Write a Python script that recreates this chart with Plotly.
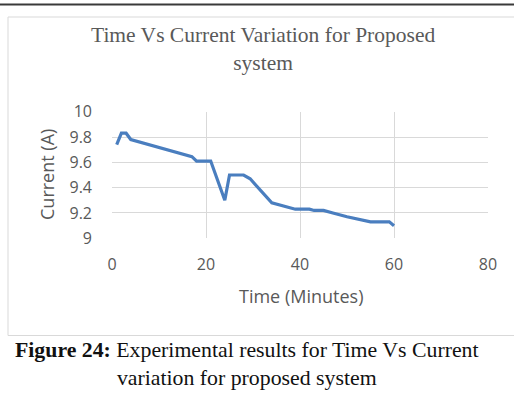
import plotly.graph_objects as go

# Data
time_min = [1, 2, 3, 4, 17, 18, 21, 24, 25, 28, 29.4, 34, 39, 42, 43, 45, 47, 50, 55, 59, 60]
current_a = [9.74, 9.83, 9.83, 9.78, 9.645, 9.61, 9.61, 9.30, 9.50, 9.50, 9.47, 9.28,
             9.23, 9.23, 9.22, 9.22, 9.20, 9.17, 9.13, 9.13, 9.10]
x_ticks = [0, 20, 40, 60, 80]
y_ticks = [9, 9.2, 9.4, 9.6, 9.8, 10]
y_tick_labels = ["9", "9.2", "9.4", "9.6", "9.8", "10"]

W, H = 514, 394

def px(x):
    return x / W

def py(y):
    return 1 - y / H

fig = go.Figure()
fig.add_trace(go.Scatter(
    x=time_min, y=current_a, mode="lines",
    line=dict(color="#4a7ebf", width=3.2),
    showlegend=False, hoverinfo="skip",
))

grid = "#d9d9d9"
sans = "'Open Sans', Lato, sans-serif"
tick_font = dict(family=sans, size=16, color="#595959")

fig.update_layout(
    width=W, height=H,
    margin=dict(l=0, r=0, t=0, b=0),
    paper_bgcolor="white", plot_bgcolor="white",
    xaxis=dict(
        domain=[px(112), px(488)], range=[0, 80],
        tickvals=x_ticks, showgrid=True, gridcolor=grid, gridwidth=1,
        zeroline=False, showline=False, ticks="", tickfont=tick_font,
        automargin=False, ticklabelstandoff=15,
    ),
    yaxis=dict(
        domain=[py(238.3), py(111.7)], range=[9, 10],
        tickvals=y_ticks, ticktext=y_tick_labels,
        showgrid=True, gridcolor=grid, gridwidth=1,
        zeroline=False, showline=False, ticks="", tickfont=tick_font,
        automargin=False, ticklabelstandoff=19,
    ),
)

shapes = [
    # top rule of page
    dict(type="line", xref="paper", yref="paper", x0=0, x1=1, y0=py(4.5), y1=py(4.5),
         line=dict(color="#3a3a3a", width=2)),
    # chart frame
    dict(type="rect", xref="paper", yref="paper", x0=px(8), x1=px(530), y0=py(335.5), y1=py(17),
         line=dict(color="#d9d9d9", width=1)),
]
fig.update_layout(shapes=shapes)

serif = "'Liberation Serif', 'Times New Roman', serif"
annotations = [
    dict(text="Time Vs Current Variation for Proposed<br>system",
         x=px(263), y=py(49), xref="paper", yref="paper", xanchor="center", yanchor="middle",
         showarrow=False, align="center",
         font=dict(family=serif, size=21.5, color="#595959")),
    dict(text="Current (A)", textangle=-90,
         x=px(47), y=py(175), xref="paper", yref="paper", xanchor="center", yanchor="middle",
         showarrow=False, font=dict(family=sans, size=18, color="#595959")),
    dict(text="Time (Minutes)",
         x=px(301), y=py(296), xref="paper", yref="paper", xanchor="center", yanchor="middle",
         showarrow=False, font=dict(family=sans, size=18, color="#595959")),
    dict(text="<b>Figure 24:</b> Experimental results for Time Vs Current<br>variation for proposed system",
         x=px(247), y=py(363.5), xref="paper", yref="paper", xanchor="center", yanchor="middle",
         showarrow=False, align="center",
         font=dict(family=serif, size=21.8, color="#111111")),
]
fig.update_layout(annotations=annotations)

fig.write_html("out.html")
